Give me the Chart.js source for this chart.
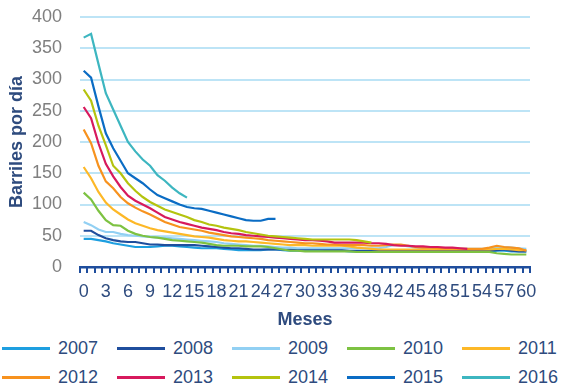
<!DOCTYPE html>
<html>
<head>
<meta charset="utf-8">
<script src="https://cdn.jsdelivr.net/npm/chart.js@4/dist/chart.umd.min.js"></script>
<style>
html,body{margin:0;padding:0;background:#fff;overflow:hidden;}
#wrap{position:relative;width:561px;height:333px;}
#legend{position:relative;width:561px;height:53px;font-family:"Liberation Sans",Arial,sans-serif;font-size:18px;color:#2E4B7E;}
.item{position:absolute;height:29px;line-height:29px;white-space:nowrap;}
.sw{position:absolute;left:0;top:13px;width:48px;height:3px;}
.tx{position:absolute;left:56px;top:0;}
</style>
</head>
<body>
<div id="wrap"><canvas id="c" width="561" height="333"></canvas></div>
<div id="legend"></div>
<script>
// Months 0..60
const months = Array.from({length: 61}, (_, i) => String(i));
const seriesNames = ["2007","2008","2009","2010","2011","2012","2013","2014","2015","2016"];
const yTicks = [0,50,100,150,200,250,300,350,400];

const s2007 = [45,45,43,41,38,36,34,32,32,32, 33,34,34,33,32,31,30,30,30,29, 28,27,27,27,27,28,28,27,26,26, 26,26,26,26,26,26,25,25,25,25, 25,25,25,25,25,25,25,25,25,25, 25,25,25,25,25,25,26,26,25,25, 25];
const s2008 = [58,58,51,46,43,41,40,40,38,36, 36,35,35,35,35,35,34,33,32,31, 30,30,29,28,28,28,28,28,28,28, 28,28,28,27,27,27,26,26,26,26, 26,26,26,26,26,26,26,26,26,26, 26,26,26,26,26,26,27,28,26,25, 25];
const s2009 = [72,67,60,56,56,53,51,50,49,48, 47,47,46,45,44,43,42,41,40,38, 37,36,35,34,34,33,32,31,31,30, 30,30,30,30,30,30,30,30,30,30, 30,32,35,35,33,31,30,30,30,29, 29,29,29,29,29,29,31,32,31,30, 29];
const s2010 = [119,108,90,75,67,66,58,53,50,48, 47,45,43,42,41,40,39,37,35,34, 34,34,33,33,33,32,30,28,26,26, 25,25,25,25,25,25,25,24,24,24, 24,24,24,24,24,24,24,24,24,24, 24,24,24,24,24,24,22,21,20,20, 20];
const s2011 = [160,142,120,103,92,84,76,70,66,62, 59,57,55,53,51,49,48,47,45,43, 42,41,41,40,39,38,37,36,35,35, 35,34,34,34,34,34,33,31,30,29, 28,28,28,28,28,28,28,28,28,28, 28,28,28,28,28,28,29,29,28,27, 27];
const s2012 = [220,198,162,137,126,112,102,95,89,84, 78,72,68,64,62,60,58,55,53,51, 49,48,47,46,45,43,42,41,40,39, 38,38,37,36,36,35,35,35,35,34, 34,35,36,36,34,32,31,31,30,30, 30,29,29,29,29,31,34,32,31,30, 26];
const s2013 = [256,238,198,165,145,128,114,106,100,94, 87,80,76,72,69,66,63,61,59,56, 54,53,51,50,49,48,47,46,45,44, 43,43,42,41,39,39,39,39,39,38, 38,37,35,34,34,33,33,32,32,31, 31,30,29];
const s2014 = [284,266,226,195,162,150,134,122,112,104, 98,92,88,84,80,75,72,68,66,63, 61,59,56,54,52,50,49,48,47,46, 45,44,44,44,44,44,44,43,41,39];
const s2015 = [314,303,257,214,190,170,150,142,134,124, 115,110,105,100,96,94,93,90,87,84, 81,78,75,74,74,77,77];
const s2016 = [367,373,325,278,252,226,200,185,172,162, 147,138,127,118,111];

const seriesValues = [s2007,s2008,s2009,s2010,s2011,s2012,s2013,s2014,s2015,s2016];
const colors = ["#1E9FE0","#1F4E9D","#92D0F3","#7DC242","#FDB827","#F7921E","#D7195D","#B4C30E","#0A6CC4","#3DB6C0"];

const FONT = '"Liberation Sans", Arial, sans-serif';
const NAVY = "#2E4B7E";
const AXIS = "#1F4E9D";

const datasets = seriesNames.map((n, i) => ({
  label: n,
  data: seriesValues[i],
  borderColor: colors[i],
  backgroundColor: colors[i],
  borderWidth: 2.2,
  pointRadius: 0,
  pointHoverRadius: 0,
  tension: 0,
  fill: false,
  order: seriesNames.length - i
}));

// Tick marks on the category boundaries of the x scale
const boundaryTicks = {
  id: "boundaryTicks",
  afterDraw(chart) {
    const xs = chart.scales.x;
    const ctx = chart.ctx;
    const y0 = xs.top;
    ctx.save();
    ctx.strokeStyle = AXIS;
    ctx.lineWidth = 2;
    const n = months.length;
    for (let i = 0; i <= n; i++) {
      let x;
      if (i === 0) x = xs.left;
      else if (i === n) x = xs.right;
      else x = (xs.getPixelForValue(i - 1) + xs.getPixelForValue(i)) / 2;
      x = Math.round(x) + 0.0;
      ctx.beginPath();
      ctx.moveTo(x, y0);
      ctx.lineTo(x, y0 + 6);
      ctx.stroke();
    }
    ctx.restore();
  }
};

new Chart(document.getElementById("c"), {
  type: "line",
  data: { labels: months, datasets },
  plugins: [boundaryTicks],
  options: {
    responsive: false,
    animation: false,
    layout: { padding: { left: 2, right: 31, top: 17, bottom: 2 } },
    plugins: { legend: { display: false }, tooltip: { enabled: false } },
    scales: {
      x: {
        type: "category",
        offset: true,
        afterFit: (axis) => { axis.height = 64; },
        grid: { display: false, drawTicks: true, tickLength: 5 },
        border: { display: true, color: AXIS, width: 2.5 },
        ticks: {
          autoSkip: false, maxRotation: 0, minRotation: 0, padding: 9,
          color: NAVY, font: { family: FONT, size: 18 },
          callback: (v, idx) => (idx % 3 === 0 ? months[idx] : "")
        },
        title: { display: true, text: "Meses", color: NAVY, font: { family: FONT, size: 18, weight: "bold" }, padding: { top: 3, bottom: 0 } }
      },
      y: {
        min: 0, max: 400,
        afterBuildTicks: (axis) => { axis.ticks = yTicks.map(v => ({ value: v })); },
        afterFit: (axis) => { axis.width = 78; axis.paddingTop = 0; axis.paddingBottom = 0; },
        grid: { drawTicks: false, color: (ctx) => (ctx.tick && ctx.tick.value === 0 ? "rgba(0,0,0,0)" : "#BDE4F6"), lineWidth: 2 },
        border: { display: false },
        ticks: { padding: 18, color: "#7F7F7F", font: { family: FONT, size: 18 } },
        title: { display: true, text: "Barriles por día", color: NAVY, font: { family: FONT, size: 18, weight: "bold" }, padding: { top: 4, bottom: 4 } }
      }
    }
  }
});

// Legend built from the same series names and colours
const lg = document.getElementById("legend");
const colX = [2, 117, 232, 347, 462];
seriesNames.forEach((n, i) => {
  const it = document.createElement("div");
  it.className = "item";
  it.style.left = colX[i % 5] + "px";
  it.style.top = (1 + Math.floor(i / 5) * 29) + "px";
  const sw = document.createElement("div");
  sw.className = "sw";
  sw.style.background = colors[i];
  const tx = document.createElement("span");
  tx.className = "tx";
  tx.textContent = n;
  it.appendChild(sw); it.appendChild(tx);
  lg.appendChild(it);
});
</script>
</body>
</html>
